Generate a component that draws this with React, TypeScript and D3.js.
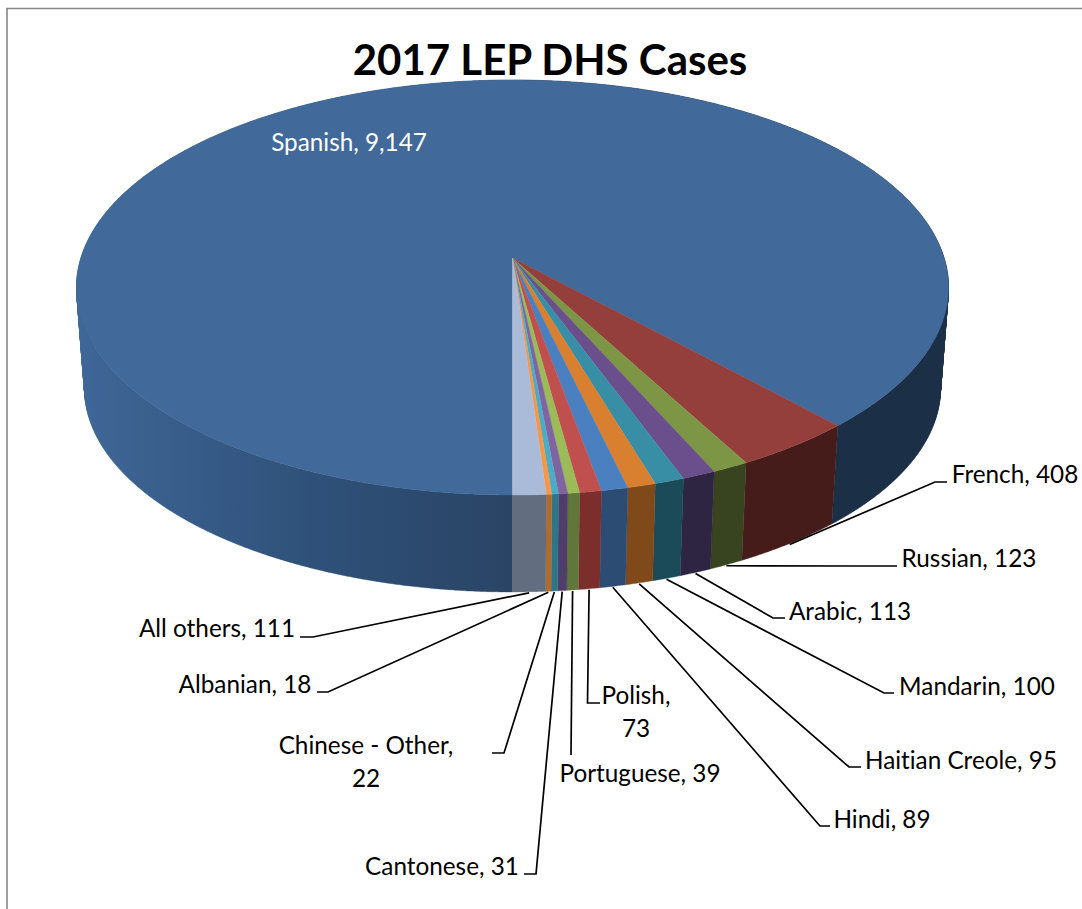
import React from "react";
import * as d3 from "d3";

const categories = ["Spanish", "French", "Russian", "Arabic", "Mandarin", "Haitian Creole", "Hindi", "Polish", "Portuguese", "Cantonese", "Chinese - Other", "Albanian", "All others"];
const cases = [9147, 408, 123, 113, 100, 95, 89, 73, 39, 31, 22, 18, 111];
const topColors = ["#41699a", "#943f3c", "#7d9646", "#6a4f8c", "#378ea5", "#d97f30", "#4a80c0", "#c0504d", "#9bbb59", "#8064a2", "#4bacc6", "#f79646", "#aabbda"];
const sideColors = ["url(#spanishSide)", "#451c19", "#38431f", "#2e2542", "#1b4b58", "#80491a", "#2c4c74", "#7b2e2c", "#61763a", "#4f3e6a", "#2f7588", "#b36b2a", "#626e80"];

// label text lines, anchor position (centre x, baseline) and leader elbows, same order as categories
const labelLines = [["Spanish, 9,147"], ["French, 408"], ["Russian, 123"], ["Arabic, 113"], ["Mandarin, 100"], ["Haitian Creole, 95"], ["Hindi, 89"], ["Polish,", "73"], ["Portuguese, 39"], ["Cantonese, 31"], ["Chinese - Other,", "22"], ["Albanian, 18"], ["All others, 111"]];
const labelX = [349, 1015, 969, 850, 977, 961, 882, 636, 640, 442, 366, 245, 217];
const labelY = [151, 483, 567, 620, 695, 769, 828, 704, 782, 875, 754, 693, 637];
const elbows: number[][][] = [
  [],
  [[935, 482], [947, 482]],
  [[855, 566], [897, 566]],
  [[773, 618], [785, 618]],
  [[884, 693], [894, 693]],
  [[849, 767], [861, 767]],
  [[820, 826], [830, 826]],
  [[587.5, 703], [600, 703]],
  [[571, 755]],
  [[536, 874], [524, 874]],
  [[504, 753], [492, 753]],
  [[328, 692], [317, 692]],
  [[313, 637], [300, 637]],
];

const width = 1082;
const height = 909;

// perspective of the pie: unit circle on the top face -> screen
const cx = 512.5;
const apexY = 258;
const persp = -0.1422;
const yGain = 166.6;
const xGain = 431.6;
// the bottom rim is the top rim shrunk toward a far vanishing point
const vanishY = 5766;
const shrink = 0.9816;

function topPoint(a: number): [number, number] {
  const u = Math.sin(a);
  const v = -Math.cos(a);
  const w = 1 + persp * v;
  return [cx + (xGain * u) / w, (yGain * v + apexY) / w];
}

function bottomPoint(a: number): [number, number] {
  const [x, y] = topPoint(a);
  return [cx + (x - cx) * shrink, vanishY - (vanishY - y) * shrink];
}

function sampleAngles(a0: number, a1: number) {
  const n = Math.max(2, Math.ceil((a1 - a0) / 0.005));
  return d3.range(n + 1).map((i) => a0 + ((a1 - a0) * i) / n);
}

const pie = d3.pie<number>().sort(null).startAngle(Math.PI).endAngle(3 * Math.PI);
const slices = pie(cases);
const line = d3.line();
const topColor = d3.scaleOrdinal(categories, topColors);
const sideColor = d3.scaleOrdinal(categories, sideColors);

function sidePath(a0: number, a1: number) {
  const angles = sampleAngles(a0, a1);
  // front slices are a plain band between the two rims
  if (a1 - a0 < Math.PI) {
    return line([...angles.map(topPoint), ...angles.slice().reverse().map(bottomPoint)]) + "Z";
  }
  // the big slice wraps past the silhouette, so sweep it as quads wound the same way
  return d3.pairs(angles).map(([p, q]) => {
    const quad = [topPoint(p), topPoint(q), bottomPoint(q), bottomPoint(p)];
    if (d3.polygonArea(quad) < 0) quad.reverse();
    return line(quad) + "Z";
  }).join("");
}

export default function App() {
  const font = "Lato, Carlito, sans-serif";
  return (
    <svg width={width} height={height} style={{ position: "absolute", left: 0, top: 0, background: "#fff", fontVariantLigatures: "none" }}>
      <defs>
        <linearGradient id="spanishSide" gradientUnits="userSpaceOnUse" x1={77} x2={948} y1={0} y2={0}>
          <stop offset="0" stopColor="#3f6797" />
          <stop offset="0.13" stopColor="#375c89" />
          <stop offset="0.27" stopColor="#2f5179" />
          <stop offset="0.5" stopColor="#2a4465" />
          <stop offset="0.5" stopColor="#1b2f46" />
          <stop offset="1" stopColor="#1b2f46" />
        </linearGradient>
      </defs>

      {/* chart frame, only left and top edges are in the picture */}
      <path d={line([[7, height], [7, 8.5], [width, 8.5]])!} fill="none" stroke="#868686" strokeWidth={1.6} />

      {/* sides first so the top face sits over them */}
      {slices.map((s, i) => {
        const fill = sideColor(categories[i]);
        return <path key={"side" + i} d={sidePath(s.startAngle, s.endAngle)} fill={fill} stroke={fill} strokeWidth={0.4} />;
      })}

      {slices.map((s, i) => {
        const pts = [[cx, apexY] as [number, number], ...sampleAngles(s.startAngle, s.endAngle).map(topPoint)];
        const fill = topColor(categories[i]);
        return <path key={"top" + i} d={line(pts) + "Z"} fill={fill} stroke={fill} strokeWidth={0.4} />;
      })}

      {/* leader lines */}
      {slices.map((s, i) => {
        if (!elbows[i].length) return null;
        const start = bottomPoint((s.startAngle + s.endAngle) / 2);
        return <path key={"lead" + i} d={line([[start[0], start[1] + 1], ...(elbows[i] as [number, number][])])!} fill="none" stroke="#000" strokeWidth={1.7} />;
      })}

      <text x={550} y={75} textAnchor="middle" fontFamily={font} fontWeight={700} fontSize={42}>2017 LEP DHS Cases</text>

      {labelLines.map((lines, i) =>
        lines.map((t, j) => (
          <text key={i + "-" + j} x={labelX[i]} y={labelY[i] + j * 33} textAnchor="middle" fontFamily={font} fontSize={24.3} fill={i === 0 ? "#fff" : "#000"}>{t}</text>
        ))
      )}
    </svg>
  );
}
